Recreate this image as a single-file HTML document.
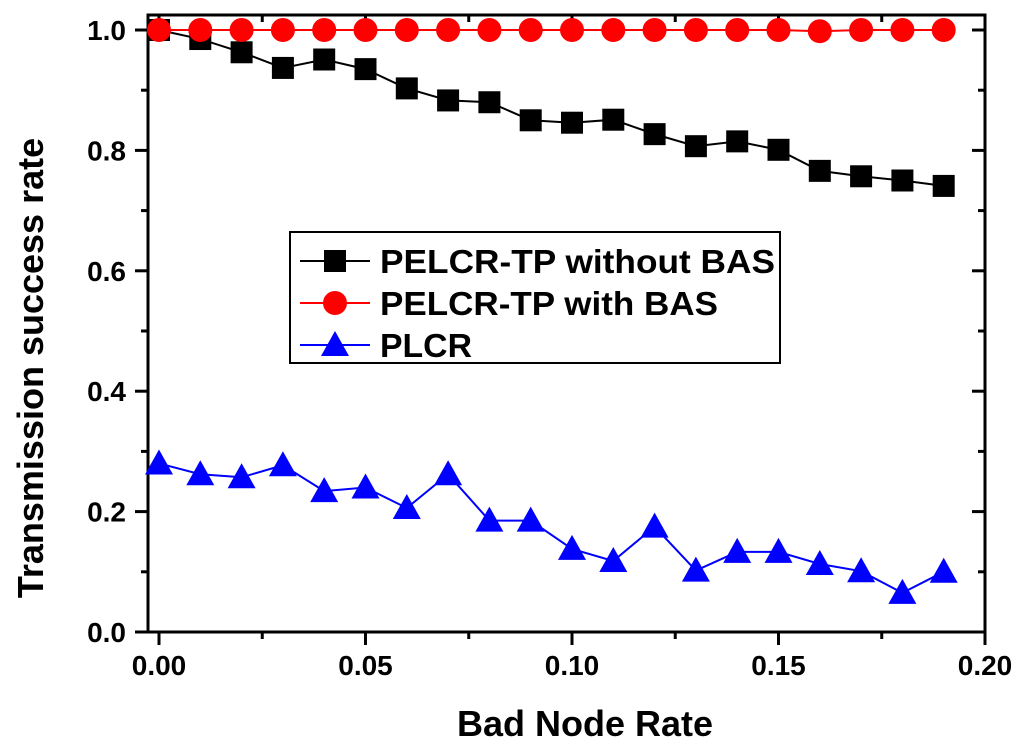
<!DOCTYPE html>
<html><head><meta charset="utf-8"><style>
html,body{margin:0;padding:0;background:#fff;}
svg{display:block;font-family:"Liberation Sans",Arial,sans-serif;font-weight:bold;}
</style></head><body>
<svg id="chart" width="1024" height="750" viewBox="0 0 1024 750"></svg>
<script>
const xValues=[0,0.01,0.02,0.03,0.04,0.05,0.06,0.07,0.08,0.09,0.10,0.11,0.12,0.13,0.14,0.15,0.16,0.17,0.18,0.19];
const seriesWithout=[1.0,0.985,0.963,0.937,0.951,0.935,0.903,0.883,0.880,0.850,0.846,0.851,0.827,0.807,0.815,0.801,0.766,0.757,0.750,0.741];
const seriesWith=[1,1,1,1,1,1,1,1,1,1,1,1,1,1,1,1,0.998,1,1,1];
const seriesPLCR=[0.280,0.262,0.257,0.277,0.234,0.240,0.206,0.262,0.185,0.185,0.138,0.118,0.175,0.102,0.133,0.133,0.113,0.101,0.065,0.100];
const xTicks=["0.00","0.05","0.10","0.15","0.20"];
const yTicks=["0.0","0.2","0.4","0.6","0.8","1.0"];
const svg=document.getElementById('chart');
const NS="http://www.w3.org/2000/svg";
const L=148,R=985,T=15,B=632;
function sx(v){return 159+(v/0.2)*(985-159);}
function sy(v){return 632-v*(632-30);}
function mk(tag,attrs,parent){const e=document.createElementNS(NS,tag);for(const k in attrs)e.setAttribute(k,attrs[k]);(parent||svg).appendChild(e);return e;}
const frame=mk('rect',{x:L,y:T,width:R-L,height:B-T,fill:'none',stroke:'#000','stroke-width':3});


for(let i=0;i<=10;i++){const v=i*0.1;const y=sy(v);const major=i%2===0;
 mk('line',{x1:L,x2:L-(major?13:7),y1:y,y2:y,stroke:'#000','stroke-width':3});
 mk('line',{x1:R,x2:R-(major?13:7),y1:y,y2:y,stroke:'#000','stroke-width':3});}
yTicks.forEach(t=>{const e=mk('text',{x:L-22,y:sy(parseFloat(t))+10,'text-anchor':'end','font-size':28});e.textContent=t;
 
 });
for(let i=0;i<=8;i++){const v=i*0.025;const x=sx(v);const major=i%2===0;
 mk('line',{x1:x,x2:x,y1:B,y2:B+(major?13:7),stroke:'#000','stroke-width':3});
 mk('line',{x1:x,x2:x,y1:T,y2:T+(major?13:7),stroke:'#000','stroke-width':3});}
xTicks.forEach(t=>{const e=mk('text',{x:sx(parseFloat(t)),y:675,'text-anchor':'middle','font-size':28});e.textContent=t;
 
 });
const xt=mk('text',{x:585,y:736,'text-anchor':'middle','font-size':36});xt.textContent='Bad Node Rate';


const yt=mk('text',{x:0,y:0,'text-anchor':'middle','font-size':36,transform:'translate(43,368) rotate(-90)'});yt.textContent='Transmission success rate';


function marker(type,x,y,color,g){
 if(type==='sq')return mk('rect',{x:x-11,y:y-11,width:22,height:22,fill:color},g);
 if(type==='ci')return mk('circle',{cx:x,cy:y,r:12,fill:color},g);
 return mk('polygon',{points:`${x},${y-14} ${x+14},${y+11} ${x-14},${y+11}`,fill:color},g);}
function series(vals,color,type,name){
 const g=mk('g',{});
 
 
 mk('polyline',{points:vals.map((v,i)=>sx(xValues[i])+','+sy(v)).join(' '),fill:'none',stroke:color,'stroke-width':2},g);
 vals.forEach((v,i)=>{const m=marker(type,sx(xValues[i]),sy(v),color,g);
  
  });}
series(seriesPLCR,'#0000ff','tr','series-plcr');
series(seriesWithout,'#000','sq','series-pelcr-tp-without-bas');
series(seriesWith,'#ff0000','ci','series-pelcr-tp-with-bas');
const lg=mk('g',{});


mk('rect',{x:290,y:232,width:490,height:131,fill:'#fff',stroke:'#000','stroke-width':2},lg);
[['PELCR-TP without BAS','#000','sq',261],['PELCR-TP with BAS','#ff0000','ci',303],['PLCR','#0000ff','tr',345]].forEach(([t,c,ty,y])=>{
 const e=mk('g',{},lg);
 
 
 mk('line',{x1:300,x2:370,y1:y,y2:y,stroke:c,'stroke-width':2},e);
 marker(ty,335,y,c,e);
 const tx=mk('text',{x:380,y:y+12,'font-size':33,textLength:t.length>10?(t.length>18?395:338):92,lengthAdjust:'spacingAndGlyphs'},e);tx.textContent=t;});
</script>
</body></html>
